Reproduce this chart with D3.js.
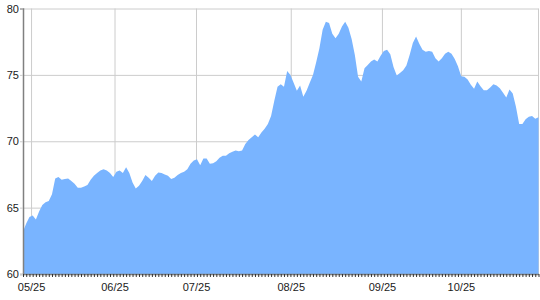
<!DOCTYPE html>
<html>
<head>
<meta charset="utf-8">
<script src="https://cdn.jsdelivr.net/npm/d3@7"></script>
<style>
  html, body { margin: 0; padding: 0; background: #fff; }
  svg { display: block; }
  text { font-family: "Liberation Sans", Arial, sans-serif; font-size: 11px; fill: #1a1a1a; }
</style>
</head>
<body>
<svg id="chart" width="540" height="300"></svg>
<script>
// ---- data ----
const values = [
  63.2, 63.8, 64.3, 64.4, 64.1, 64.7, 65.2, 65.4, 65.5, 66.0,
  67.2, 67.3, 67.1, 67.15, 67.2, 67.0, 66.8, 66.5, 66.5, 66.6,
  66.7, 67.1, 67.4, 67.6, 67.8, 67.9, 67.8, 67.6, 67.3, 67.7,
  67.8, 67.6, 68.05, 67.6, 66.9, 66.45, 66.65, 67.0, 67.45, 67.25,
  67.0, 67.4, 67.65, 67.6, 67.5, 67.4, 67.15, 67.25, 67.45, 67.6,
  67.7, 67.9, 68.3, 68.55, 68.65, 68.2, 68.7, 68.7, 68.3, 68.35,
  68.5, 68.75, 68.9, 68.9, 69.1, 69.2, 69.3, 69.25, 69.3, 69.8,
  70.1, 70.3, 70.5, 70.3, 70.65, 70.95, 71.3, 71.9, 73.05, 74.1,
  74.3, 74.1, 75.3, 75.0, 74.4, 73.8, 74.2, 73.35, 73.8, 74.4,
  75.0, 75.95, 77.0, 78.4, 79.0, 78.9, 78.1, 77.75, 78.1, 78.65,
  79.0, 78.55, 77.7, 76.5, 74.85, 74.5, 75.5, 75.75, 76.0, 76.15,
  76.0, 76.45, 76.8, 76.9, 76.55, 75.6, 74.95, 75.15, 75.35, 75.7,
  76.5, 77.4, 77.9, 77.35, 76.9, 76.75, 76.8, 76.75, 76.25, 76.0,
  76.25, 76.6, 76.75, 76.6, 76.2, 75.65, 74.9, 74.85, 74.65, 74.25,
  73.95, 74.5, 74.15, 73.85, 73.85, 74.05, 74.3, 74.2, 74.0, 73.65,
  73.3, 73.9, 73.6, 72.6, 71.3, 71.3, 71.65, 71.85, 71.9, 71.7,
  71.8
];
const tickLabels = ["05/25", "06/25", "07/25", "08/25", "09/25", "10/25"];
const tickIndices = [2.5, 28.4, 53.7, 83.1, 111.4, 135.9];
const yTicks = [60, 65, 70, 75, 80];

// ---- layout ----
(function () {
const svg = d3.select("#chart");
const mLeft = 23, mRight = 538.5, mTop = 8.5, mBottom = 274;

const x = d3.scaleLinear().domain([0, values.length - 1]).range([mLeft, mRight]);
const y = d3.scaleLinear().domain([60, 80]).range([mBottom, mTop]);

const gridColor = "#cccccc";

// horizontal gridlines
svg.append("g")
  .attr("transform", `translate(${mLeft},0)`)
  .call(d3.axisLeft(y).tickValues(yTicks).tickSize(-(mRight - mLeft)).tickFormat(""))
  .call(g => g.select(".domain").remove())
  .call(g => g.selectAll("line").attr("stroke", gridColor));

// vertical gridlines
svg.append("g")
  .attr("transform", `translate(0,${mBottom})`)
  .call(d3.axisBottom(x).tickValues(tickIndices).tickSize(-(mBottom - mTop)).tickFormat(""))
  .call(g => g.select(".domain").remove())
  .call(g => g.selectAll("line").attr("stroke", gridColor));

// right border
svg.append("line")
  .attr("x1", mRight).attr("x2", mRight).attr("y1", mTop).attr("y2", mBottom)
  .attr("stroke", gridColor);

// area
const area = d3.area()
  .x((d, i) => x(i))
  .y0(y(60))
  .y1(d => y(d));

svg.append("path")
  .datum(values)
  .attr("d", area)
  .attr("fill", "#79b4ff");

// y axis
svg.append("g")
  .attr("transform", `translate(${mLeft},0)`)
  .call(d3.axisLeft(y).tickValues(yTicks).tickSize(3).tickPadding(1).tickFormat(d3.format("d")))
  .call(g => g.select(".domain").attr("stroke", "#808080").attr("stroke-width", 1.5))
  .call(g => g.selectAll("line").attr("stroke", gridColor))
  .call(g => g.selectAll("text").attr("font-size", 11).attr("font-family", "Liberation Sans, Arial, sans-serif").attr("fill", "#1a1a1a"));

// x axis minor ticks (one per data point)
svg.append("g")
  .attr("transform", `translate(0,${mBottom})`)
  .call(d3.axisBottom(x).tickValues(d3.range(values.length)).tickSize(3).tickSizeOuter(0).tickFormat(""))
  .call(g => g.select(".domain").attr("stroke", "#808080").attr("stroke-width", 1.5))
  .call(g => g.selectAll("line").attr("stroke", "#333"));

// x axis labels
svg.append("g")
  .attr("transform", `translate(0,${mBottom})`)
  .call(d3.axisBottom(x).tickValues(tickIndices).tickSize(0).tickPadding(9)
        .tickFormat((d, i) => tickLabels[i]))
  .call(g => g.select(".domain").remove())
  .call(g => g.selectAll("text").attr("font-size", 11).attr("font-family", "Liberation Sans, Arial, sans-serif").attr("fill", "#1a1a1a"));
})();
</script>
</body>
</html>
